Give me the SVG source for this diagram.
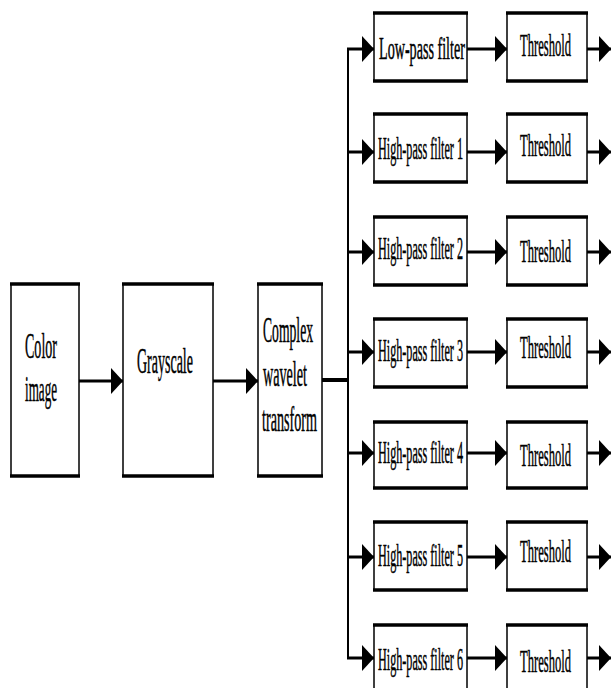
<svg xmlns="http://www.w3.org/2000/svg" width="611" height="688" viewBox="0 0 611 688">
<style>
.box{fill:#fff;stroke:#000;stroke-width:1.5}
.edge{stroke:#000;stroke-width:3.5}
.t{font-family:"Liberation Serif","Times New Roman",serif;fill:#000;stroke:#000;stroke-width:0.5}
.big{font-size:36px}
.sm{font-size:31px}
.ln{stroke:#000;stroke-width:3;fill:none}
.bus{stroke:#000;stroke-width:2;fill:none}
</style>
<defs>
<marker id="ah" markerWidth="12" markerHeight="26" refX="12" refY="13" orient="auto" markerUnits="userSpaceOnUse">
<path d="M0,0 L12,13 L0,26 Z" fill="#000"/>
</marker>
</defs>
<rect width="611" height="688" fill="#fff"/>

<g id="connectors">
<line class="ln" x1="79" y1="381" x2="123" y2="381" marker-end="url(#ah)"/>
<line class="ln" x1="213" y1="381" x2="258" y2="381" marker-end="url(#ah)"/>
<line x1="322" y1="380" x2="349" y2="380" stroke="#000" stroke-width="4"/>
<line class="bus" x1="348" y1="48" x2="348" y2="659"/>
<line class="ln" x1="347" y1="49" x2="374" y2="49" marker-end="url(#ah)"/>
<line class="ln" x1="347" y1="152" x2="374" y2="152" marker-end="url(#ah)"/>
<line class="ln" x1="347" y1="252" x2="374" y2="252" marker-end="url(#ah)"/>
<line class="ln" x1="347" y1="352" x2="374" y2="352" marker-end="url(#ah)"/>
<line class="ln" x1="347" y1="453" x2="374" y2="453" marker-end="url(#ah)"/>
<line class="ln" x1="347" y1="557" x2="374" y2="557" marker-end="url(#ah)"/>
<line class="ln" x1="347" y1="658" x2="374" y2="658" marker-end="url(#ah)"/>
<line class="ln" x1="467" y1="49" x2="507" y2="49" marker-end="url(#ah)"/>
<line class="ln" x1="467" y1="152" x2="507" y2="152" marker-end="url(#ah)"/>
<line class="ln" x1="467" y1="252" x2="507" y2="252" marker-end="url(#ah)"/>
<line class="ln" x1="467" y1="352" x2="507" y2="352" marker-end="url(#ah)"/>
<line class="ln" x1="467" y1="453" x2="507" y2="453" marker-end="url(#ah)"/>
<line class="ln" x1="467" y1="557" x2="507" y2="557" marker-end="url(#ah)"/>
<line class="ln" x1="467" y1="658" x2="507" y2="658" marker-end="url(#ah)"/>
<line class="ln" x1="587" y1="49" x2="611" y2="49" marker-end="url(#ah)"/>
<line class="ln" x1="587" y1="152" x2="611" y2="152" marker-end="url(#ah)"/>
<line class="ln" x1="587" y1="252" x2="611" y2="252" marker-end="url(#ah)"/>
<line class="ln" x1="587" y1="352" x2="611" y2="352" marker-end="url(#ah)"/>
<line class="ln" x1="587" y1="453" x2="611" y2="453" marker-end="url(#ah)"/>
<line class="ln" x1="587" y1="557" x2="611" y2="557" marker-end="url(#ah)"/>
<line class="ln" x1="587" y1="658" x2="611" y2="658" marker-end="url(#ah)"/>
</g>

<g id="color-image">
<rect class="box" x="11" y="284" width="68" height="192"/>
<line class="edge" x1="10" y1="284" x2="80" y2="284"/><line class="edge" x1="10" y1="476" x2="80" y2="476"/>
<text class="t big" transform="translate(25,358) scale(0.39,1)">Color</text>
<text class="t big" transform="translate(25,401) scale(0.364,1)">image</text>
</g>
<g id="grayscale">
<rect class="box" x="123" y="284" width="90" height="192"/>
<line class="edge" x1="122" y1="284" x2="214" y2="284"/><line class="edge" x1="122" y1="476" x2="214" y2="476"/>
<text class="t big" transform="translate(137,373) scale(0.389,1)">Grayscale</text>
</g>
<g id="cwt">
<rect class="box" x="258" y="284" width="64" height="192"/>
<line class="edge" x1="257" y1="284" x2="323" y2="284"/><line class="edge" x1="257" y1="476" x2="323" y2="476"/>
<text class="t big" transform="translate(263,342) scale(0.379,1)">Complex</text>
<text class="t big" transform="translate(263,386) scale(0.393,1)">wavelet</text>
<text class="t big" transform="translate(262,431) scale(0.393,1)">transform</text>
</g>

<g id="lpf">
<rect class="box" x="374" y="13" width="93" height="68"/>
<line class="edge" x1="373" y1="13" x2="468" y2="13"/><line class="edge" x1="373" y1="81" x2="468" y2="81"/>
<text class="t sm" transform="translate(379,59) scale(0.456,1)">Low-pass filter</text>
</g>
<g id="th0">
<rect class="box" x="507" y="13" width="80" height="68"/>
<line class="edge" x1="506" y1="13" x2="588" y2="13"/><line class="edge" x1="506" y1="81" x2="588" y2="81"/>
<text class="t sm" transform="translate(520,56) scale(0.406,1)">Threshold</text>
</g>

<g id="hpf1">
<rect class="box" x="374" y="114" width="93" height="68"/>
<line class="edge" x1="373" y1="114" x2="468" y2="114"/><line class="edge" x1="373" y1="182" x2="468" y2="182"/>
<text class="t sm" transform="translate(378,159) scale(0.392,1)">High-pass filter 1</text>
</g>
<g id="th1">
<rect class="box" x="507" y="114" width="80" height="68"/>
<line class="edge" x1="506" y1="114" x2="588" y2="114"/><line class="edge" x1="506" y1="182" x2="588" y2="182"/>
<text class="t sm" transform="translate(520,156) scale(0.406,1)">Threshold</text>
</g>

<g id="hpf2">
<rect class="box" x="374" y="217" width="93" height="68"/>
<line class="edge" x1="373" y1="217" x2="468" y2="217"/><line class="edge" x1="373" y1="285" x2="468" y2="285"/>
<text class="t sm" transform="translate(378,259) scale(0.392,1)">High-pass filter 2</text>
</g>
<g id="th2">
<rect class="box" x="507" y="217" width="80" height="68"/>
<line class="edge" x1="506" y1="217" x2="588" y2="217"/><line class="edge" x1="506" y1="285" x2="588" y2="285"/>
<text class="t sm" transform="translate(520,262) scale(0.406,1)">Threshold</text>
</g>

<g id="hpf3">
<rect class="box" x="374" y="319" width="93" height="68"/>
<line class="edge" x1="373" y1="319" x2="468" y2="319"/><line class="edge" x1="373" y1="387" x2="468" y2="387"/>
<text class="t sm" transform="translate(378,361) scale(0.392,1)">High-pass filter 3</text>
</g>
<g id="th3">
<rect class="box" x="507" y="319" width="80" height="68"/>
<line class="edge" x1="506" y1="319" x2="588" y2="319"/><line class="edge" x1="506" y1="387" x2="588" y2="387"/>
<text class="t sm" transform="translate(520,358) scale(0.406,1)">Threshold</text>
</g>

<g id="hpf4">
<rect class="box" x="374" y="422" width="93" height="66"/>
<line class="edge" x1="373" y1="422" x2="468" y2="422"/><line class="edge" x1="373" y1="488" x2="468" y2="488"/>
<text class="t sm" transform="translate(378,463) scale(0.392,1)">High-pass filter 4</text>
</g>
<g id="th4">
<rect class="box" x="507" y="422" width="80" height="66"/>
<line class="edge" x1="506" y1="422" x2="588" y2="422"/><line class="edge" x1="506" y1="488" x2="588" y2="488"/>
<text class="t sm" transform="translate(520,466) scale(0.406,1)">Threshold</text>
</g>

<g id="hpf5">
<rect class="box" x="374" y="522" width="93" height="68"/>
<line class="edge" x1="373" y1="522" x2="468" y2="522"/><line class="edge" x1="373" y1="590" x2="468" y2="590"/>
<text class="t sm" transform="translate(378,566) scale(0.392,1)">High-pass filter 5</text>
</g>
<g id="th5">
<rect class="box" x="507" y="522" width="80" height="68"/>
<line class="edge" x1="506" y1="522" x2="588" y2="522"/><line class="edge" x1="506" y1="590" x2="588" y2="590"/>
<text class="t sm" transform="translate(520,562) scale(0.406,1)">Threshold</text>
</g>

<g id="hpf6">
<rect class="box" x="374" y="625" width="93" height="68"/>
<line class="edge" x1="373" y1="625" x2="468" y2="625"/>
<text class="t sm" transform="translate(378,670) scale(0.392,1)">High-pass filter 6</text>
</g>
<g id="th6">
<rect class="box" x="507" y="625" width="80" height="68"/>
<line class="edge" x1="506" y1="625" x2="588" y2="625"/>
<text class="t sm" transform="translate(520,672) scale(0.406,1)">Threshold</text>
</g>
</svg>
